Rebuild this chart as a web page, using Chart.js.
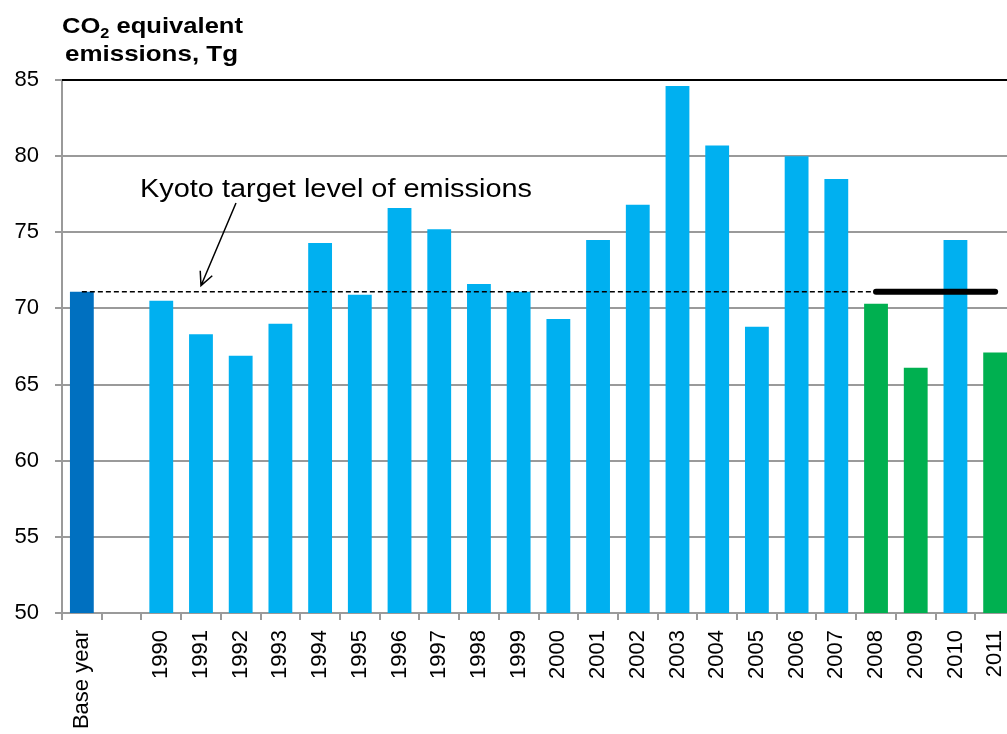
<!DOCTYPE html>
<html>
<head>
<meta charset="utf-8">
<title>CO2 equivalent emissions</title>
<script src="https://cdn.jsdelivr.net/npm/chart.js@4/dist/chart.umd.min.js"></script>
<style>
    html, body { margin: 0; padding: 0; background: #fff; overflow: hidden; }
    #wrap { position: relative; width: 1015px; height: 734px; }
</style>
</head>
<body>
<div id="wrap"><canvas id="emissionsChart"></canvas></div>
<script>
// x axis categories (second slot is left empty like in the original)
const categories = ['Base year', '', '1990', '1991', '1992', '1993', '1994', '1995', '1996', '1997',
    '1998', '1999', '2000', '2001', '2002', '2003', '2004', '2005', '2006', '2007',
    '2008', '2009', '2010', '2011'];

// CO2 equivalent emissions, Tg
const emissions = [71.1, null, 70.5, 68.3, 66.9, 69.0, 74.3, 70.9, 76.6, 75.2,
    71.6, 71.1, 69.3, 74.5, 76.8, 84.6, 80.7, 68.8, 80.0, 78.5,
    70.3, 66.1, 74.5, 67.1];

// Kyoto target level and the commitment period years
const kyotoTarget = 71.1;
const commitmentYears = ['2008', '2009', '2010', '2011'];
const greenYears = ['2008', '2009', '2011'];

// y axis ticks
const yMin = 50;
const yMax = 85;
const yStep = 5;

const FONT = "'Liberation Sans', Arial, sans-serif";
const GRID = '#9a9a9a';

const barColors = categories.map(function (c) {
    if (c === 'Base year') return '#0070C0';
    if (greenYears.includes(c)) return '#00B050';
    return '#00B0F0';
});

const startPeriod = categories.indexOf(commitmentYears[0]);
const dashedLine = categories.map((c, i) => i <= startPeriod ? kyotoTarget : null);
const periodLine = categories.map(c => commitmentYears.includes(c) ? kyotoTarget : null);

// draw a text stretched to a given width
function fillStretched(ctx, text, x, y, width) {
    const w = ctx.measureText(text).width;
    ctx.save();
    ctx.translate(x, y);
    ctx.scale(width / w, 1);
    ctx.fillText(text, 0, 0);
    ctx.restore();
}

// extra drawing: top border, axis title, annotation with arrow
const decorations = {
    id: 'decorations',
    afterDraw(chart) {
        const ctx = chart.ctx;
        const area = chart.chartArea;
        const xs = chart.scales.x;
        const ys = chart.scales.y;
        ctx.save();

        // black top border of plot area
        ctx.strokeStyle = '#000';
        ctx.lineWidth = 2;
        ctx.beginPath();
        ctx.moveTo(area.left, area.top);
        ctx.lineTo(area.right, area.top);
        ctx.stroke();

        // axis title with subscript (first line stretched to the original width)
        ctx.fillStyle = '#000';
        ctx.textBaseline = 'alphabetic';
        ctx.textAlign = 'left';
        ctx.font = 'bold 22px ' + FONT;
        const wCO = ctx.measureText('CO').width;
        const wEq = ctx.measureText(' equivalent').width;
        ctx.font = 'bold 14px ' + FONT;
        const w2 = ctx.measureText('2').width;
        const sx = 181 / (wCO + w2 + wEq);
        ctx.save();
        ctx.translate(62, 33);
        ctx.scale(sx, 1);
        ctx.font = 'bold 22px ' + FONT;
        ctx.fillText('CO', 0, 0);
        ctx.font = 'bold 14px ' + FONT;
        ctx.fillText('2', wCO, 5);
        ctx.font = 'bold 22px ' + FONT;
        ctx.fillText(' equivalent', wCO + w2, 0);
        ctx.restore();
        ctx.font = 'bold 22px ' + FONT;
        fillStretched(ctx, 'emissions, Tg', 65, 61, 173);

        // annotation text
        ctx.font = '26px ' + FONT;
        fillStretched(ctx, 'Kyoto target level of emissions', 140, 197, 392);

        // arrow pointing at the target line
        const tipX = xs.getPixelForValue(3);
        const tipY = ys.getPixelForValue(kyotoTarget) - 6;
        const tailX = 236, tailY = 203;
        const ang = Math.atan2(tipY - tailY, tipX - tailX);
        ctx.strokeStyle = '#000';
        ctx.lineWidth = 1.5;
        ctx.beginPath();
        ctx.moveTo(tailX, tailY);
        ctx.lineTo(tipX, tipY);
        ctx.moveTo(tipX - 15 * Math.cos(ang - 0.45), tipY - 15 * Math.sin(ang - 0.45));
        ctx.lineTo(tipX, tipY);
        ctx.lineTo(tipX - 15 * Math.cos(ang + 0.45), tipY - 15 * Math.sin(ang + 0.45));
        ctx.stroke();

        ctx.restore();
    }
};

const ctx = document.getElementById('emissionsChart').getContext('2d');

new Chart(ctx, {
    type: 'bar',
    data: {
        labels: categories,
        datasets: [
            {
                type: 'line',
                label: 'Kyoto target',
                data: dashedLine,
                borderColor: '#000',
                borderWidth: 1.5,
                borderDash: [5, 3],
                pointRadius: 0,
                fill: false,
                order: 1
            },
            {
                type: 'line',
                label: 'Commitment period',
                data: periodLine,
                borderColor: '#000',
                borderWidth: 6,
                borderCapStyle: 'round',
                pointRadius: 0,
                fill: false,
                order: 0
            },
            {
                label: 'Emissions',
                data: emissions,
                backgroundColor: barColors,
                borderWidth: 0,
                barPercentage: 0.6,
                categoryPercentage: 1.0,
                order: 2
            }
        ]
    },
    options: {
        responsive: true,
        maintainAspectRatio: false,
        animation: false,
        layout: {
            padding: { top: 80, left: 0, right: 0, bottom: 0 }
        },
        plugins: {
            legend: { display: false },
            tooltip: { enabled: false }
        },
        scales: {
            x: {
                grid: {
                    drawOnChartArea: false,
                    drawTicks: true,
                    tickLength: 7,
                    color: GRID,
                    lineWidth: 2
                },
                border: { color: GRID, width: 2 },
                ticks: {
                    autoSkip: false,
                    minRotation: 90,
                    maxRotation: 90,
                    padding: 10,
                    color: '#000',
                    font: { family: FONT, size: 22 }
                },
                afterFit: function (scale) {
                    scale.height = 121;
                    scale.paddingLeft = 0;
                    scale.paddingRight = 0;
                }
            },
            y: {
                min: yMin,
                max: yMax,
                grid: {
                    color: GRID,
                    lineWidth: 2,
                    tickLength: 7
                },
                border: { color: GRID, width: 2 },
                ticks: {
                    stepSize: yStep,
                    padding: 16,
                    color: '#000',
                    font: { family: FONT, size: 22 }
                },
                afterFit: function (scale) {
                    scale.width = 62;
                }
            }
        }
    },
    plugins: [decorations]
});
</script>
</body>
</html>
